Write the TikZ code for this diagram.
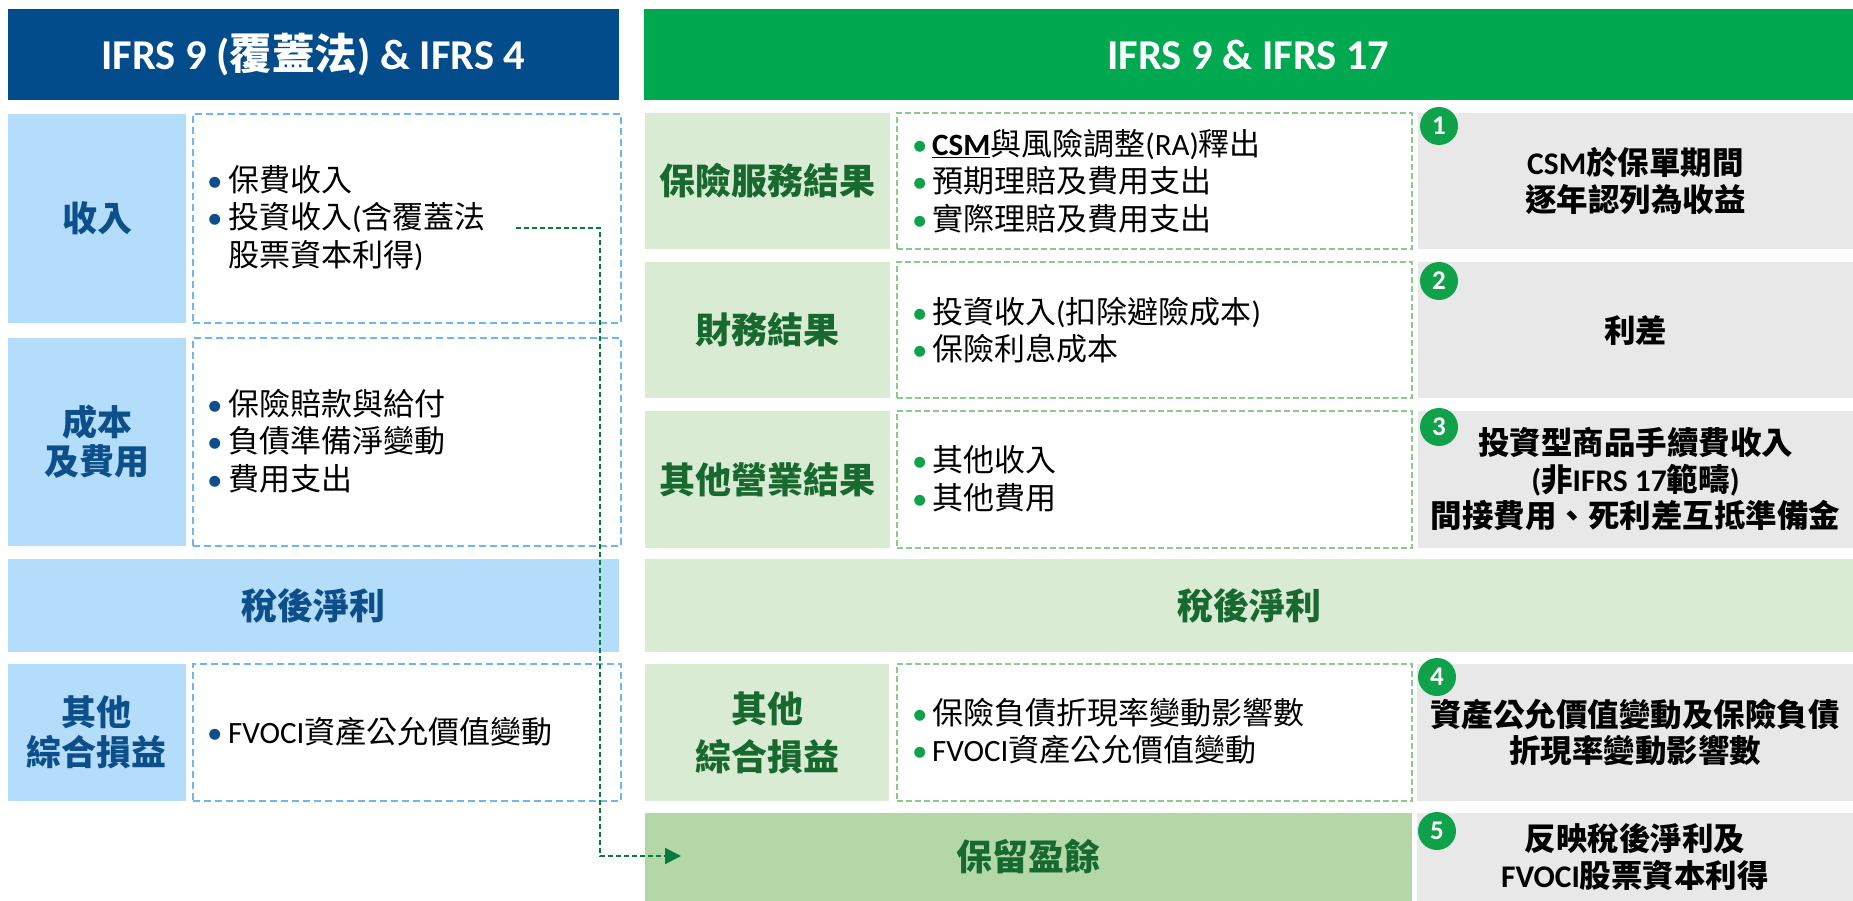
\documentclass[tikz,border=0pt]{standalone}
\usepackage{fontspec}
\setmainfont{Noto Sans CJK TC}
\newfontfamily\lat{Carlito}
\usetikzlibrary{arrows.meta}
\definecolor{hdrblue}{HTML}{034C8C}
\definecolor{lblue}{HTML}{B4DCFB}
\definecolor{tblue}{HTML}{0D4F8B}
\definecolor{dblue}{HTML}{6CB7EF}
\definecolor{hdrgreen}{HTML}{00A84F}
\definecolor{lgreen}{HTML}{DAEBD4}
\definecolor{tgreen}{HTML}{17692F}
\definecolor{dgreen}{HTML}{8DC98A}
\definecolor{bgray}{HTML}{E8E8E8}
\definecolor{cgreen}{HTML}{10A24A}
\definecolor{rgreen}{HTML}{B3D7A7}
\definecolor{conn}{HTML}{0A7A3C}
\newcommand\fs[2]{\fontsize{#1}{#2}\selectfont}
\newcommand\bulL{\makebox[21pt][l]{\lat\textcolor{tblue}{•}}}
\newcommand\bulR{\makebox[20pt][l]{\lat\textcolor{cgreen}{•}}}
\begin{document}
\begin{tikzpicture}[x=1pt,y=-1pt,
  box/.style={rectangle, anchor=north west, inner sep=0pt, outer sep=0pt},
  hdr/.style={box, text=white, font=\bfseries\fs{42.5}{42.5}},
  lblL/.style={box, fill=lblue, text=tblue, align=center, font=\bfseries\fs{35}{39}},
  lblR/.style={box, fill=lgreen, text=tgreen, align=center, font=\bfseries\fs{36}{40}},
  dashL/.style={box, draw=dblue, line width=2pt, dash pattern=on 7pt off 4pt},
  dashR/.style={box, draw=dgreen, line width=2pt, dash pattern=on 6pt off 3pt},
  grayb/.style={box, fill=bgray, align=center, font=\bfseries\fs{31.5}{36.5}},
  body/.style={anchor=west, inner sep=0pt, align=left, font=\fs{31}{37.5}},
  num/.style={circle, fill=cgreen, text=white, minimum size=38pt, inner sep=0pt, font=\lat\bfseries\fs{27}{27}},
  connector/.style={draw=conn, line width=2pt, dash pattern=on 5pt off 3pt}
]
\useasboundingbox (0,0) rectangle (1853,901);

% headers
\node[hdr, fill=hdrblue, minimum width=611pt, minimum height=91pt] (hL) at (8,9) {{\lat IFRS 9 (}覆蓋法{\lat ) \& IFRS 4}};
\node[hdr, fill=hdrgreen, minimum width=1209pt, minimum height=91pt] (hR) at (644,9) {\lat IFRS 9 \& IFRS 17};

% left column
\node[lblL, minimum width=178pt, minimum height=209pt] (lInc) at (8,114) {收入};
\node[dashL, minimum width=428pt, minimum height=209pt] (dInc) at (193,114) {};
\node[body] (tInc) at (207,218) {\bulL 保費收入\\\bulL 投資收入{\lat(}含覆蓋法\\\hspace*{21pt}股票資本利得{\lat)}};

\node[lblL, minimum width=178pt, minimum height=208pt] (lCost) at (8,338) {成本\\及費用};
\node[dashL, minimum width=428pt, minimum height=208pt] (dCost) at (193,338) {};
\node[body] (tCost) at (207,441) {\bulL 保險賠款與給付\\\bulL 負債準備淨變動\\\bulL 費用支出};

\node[lblL, minimum width=611pt, minimum height=93pt, font=\bfseries\fs{36}{40}] (lNet) at (8,559) {稅後淨利};

\node[lblL, minimum width=178pt, minimum height=137pt, font=\bfseries\fs{35}{40}] (lOci) at (8,664) {其他\\綜合損益};
\node[dashL, minimum width=428pt, minimum height=137pt] (dOci) at (193,664) {};
\node[body] (tOci) at (207,732) {\bulL{\lat FVOCI}資產公允價值變動};

% right column
\node[lblR, minimum width=245pt, minimum height=136pt] (rIns) at (645,113) {保險服務結果};
\node[dashR, minimum width=515pt, minimum height=136pt] (drIns) at (897,113) {};
\node[body] (trIns) at (912,181) {\bulR{\lat\bfseries\underline{CSM}}與風險調整{\lat(RA)}釋出\\\bulR 預期理賠及費用支出\\\bulR 實際理賠及費用支出};
\node[grayb, minimum width=435pt, minimum height=136pt] (g1) at (1418,113) {{\lat CSM}於保單期間\\逐年認列為收益};

\node[lblR, minimum width=245pt, minimum height=136pt] (rFin) at (645,262) {財務結果};
\node[dashR, minimum width=515pt, minimum height=136pt] (drFin) at (897,262) {};
\node[body] (trFin) at (912,330) {\bulR 投資收入{\lat(}扣除避險成本{\lat)}\\\bulR 保險利息成本};
\node[grayb, minimum width=435pt, minimum height=136pt] (g2) at (1418,262) {利差};

\node[lblR, minimum width=245pt, minimum height=137pt] (rOth) at (645,411) {其他營業結果};
\node[dashR, minimum width=515pt, minimum height=137pt] (drOth) at (897,411) {};
\node[body] (trOth) at (912,479) {\bulR 其他收入\\\bulR 其他費用};
\node[grayb, minimum width=435pt, minimum height=137pt] (g3) at (1418,411) {投資型商品手續費收入\\{\lat(}非{\lat IFRS 17}範疇{\lat)}\\間接費用、死利差互抵準備金};

\node[lblR, minimum width=1208pt, minimum height=93pt] (rNet) at (645,559) {稅後淨利};

\node[lblR, minimum width=244pt, minimum height=137pt, font=\bfseries\fs{36}{48}] (rOci) at (645,664) {其他\\綜合損益};
\node[dashR, minimum width=515pt, minimum height=137pt] (drOci) at (897,664) {};
\node[body] (trOci) at (912,731) {\bulR 保險負債折現率變動影響數\\\bulR{\lat FVOCI}資產公允價值變動};
\node[grayb, minimum width=436pt, minimum height=137pt] (g4) at (1417,664) {資產公允價值變動及保險負債\\折現率變動影響數};

\node[lblR, fill=rgreen, minimum width=767pt, minimum height=88pt] (rRet) at (645,813) {保留盈餘};
\node[grayb, minimum width=436pt, minimum height=88pt] (g5) at (1417,813) {反映稅後淨利及\\{\lat FVOCI}股票資本利得};

% number badges
\node[num] (n1) at (1439,126) {1};
\node[num] (n2) at (1439,281) {2};
\node[num] (n3) at (1439,427) {3};
\node[num] (n4) at (1437,677) {4};
\node[num] (n5) at (1437,831) {5};

% connector
\coordinate (cA) at (516,228);
\coordinate (cB) at (681,856);
\draw[connector, -{Triangle[length=16pt,width=16pt]}] (cA) -- ++(84,0) |- (cB);
\end{tikzpicture}
\end{document}
